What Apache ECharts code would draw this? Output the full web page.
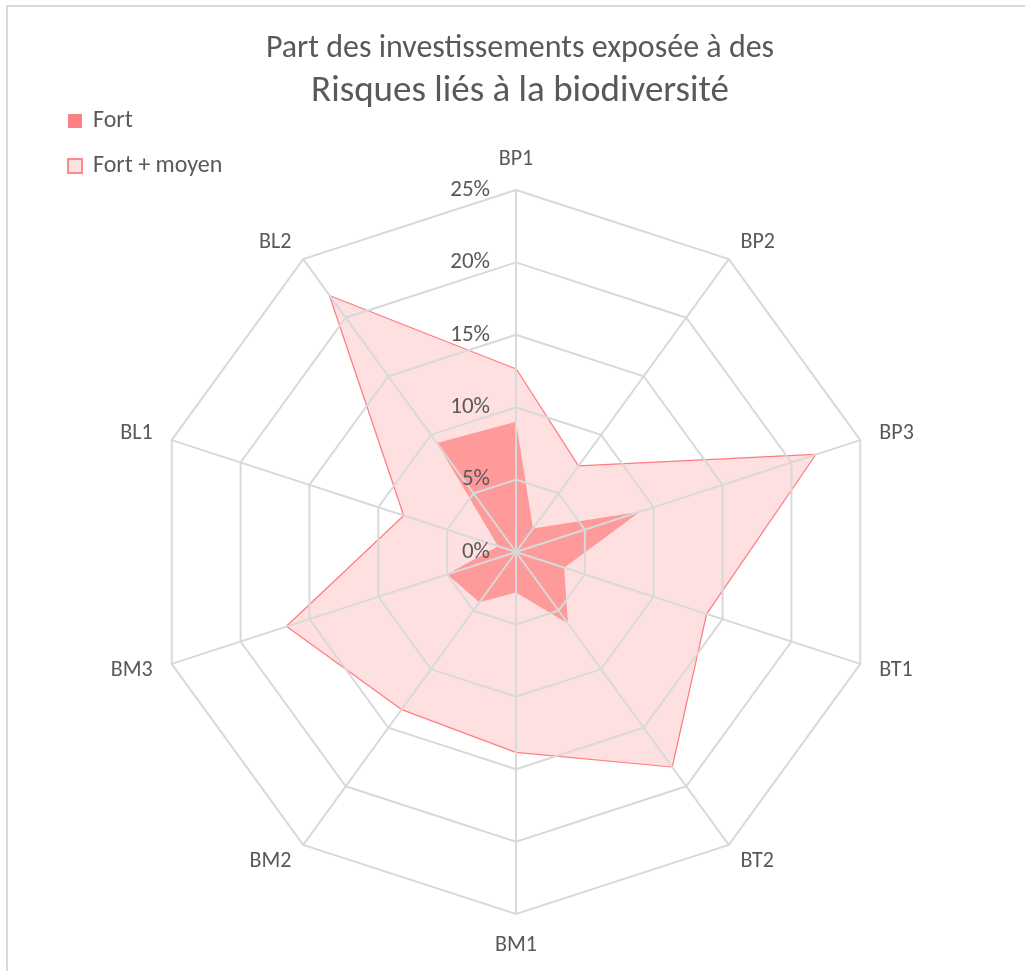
<!DOCTYPE html>
<html>
<head>
<meta charset="utf-8">
<script src="https://cdn.jsdelivr.net/npm/echarts@6/dist/echarts.min.js"></script>
<style>
    html, body { margin: 0; padding: 0; background: #fff; }
    #main { position: absolute; left: 0; top: 0; width: 1025px; height: 971px; }
    #frame { position: absolute; left: 6px; top: 5px; right: 0; bottom: 0;
             border-top: 2px solid #d9d9d9; border-left: 2px solid #d9d9d9; pointer-events: none; }
</style>
</head>
<body>
<div id="main"></div>
<div id="frame"></div>
<script>
// data (in %)
var axes = ['BP1', 'BP2', 'BP3', 'BT1', 'BT2', 'BM1', 'BM2', 'BM3', 'BL1', 'BL2'];
var fort = [9.0, 2.0, 9.0, 3.5, 6.1, 2.8, 4.3, 5.0, 1.3, 9.3];
var fortMoyen = [12.6, 7.3, 21.7, 13.8, 18.3, 13.8, 13.4, 16.6, 8.1, 21.8];
var seriesNames = ['Fort', 'Fort + moyen'];

var font = 'Carlito, Lato, sans-serif';
var grey = '#595959';

// echarts radar runs counter-clockwise, the original goes clockwise
function cw(arr) {
    return [arr[0]].concat(arr.slice(1).reverse());
}

// withLabel: show the % ticks on the first (top) axis only
function makeIndicator(withLabel) {
    return cw(axes).map(function (name, i) {
        var ind = {name: name, min: 0, max: 25};
        if (withLabel && i === 0) ind.axisLabel = {show: true};
        return ind;
    });
}

var myChart = echarts.init(document.getElementById('main'));
var option = {
    backgroundColor: '#fff',
    title: {
        text: 'Part des investissements exposée à des',
        subtext: 'Risques liés à la biodiversité',
        left: 520,
        top: 33,
        padding: 0,
        textAlign: 'center',
        itemGap: 8,
        textStyle: {fontFamily: font, fontSize: 32, fontWeight: 'normal', color: grey},
        subtextStyle: {fontFamily: font, fontSize: 37, color: grey}
    },
    legend: {
        orient: 'vertical',
        left: 62,
        top: 104,
        itemWidth: 14,
        itemHeight: 14,
        itemGap: 21,
        icon: 'rect',
        textStyle: {fontFamily: font, fontSize: 24, color: grey, padding: [0, 0, 0, 6]},
        data: [
            {name: seriesNames[0], itemStyle: {color: '#ff8080', borderWidth: 0}},
            {name: seriesNames[1], itemStyle: {color: '#fde0e0', borderColor: '#ff8a8a', borderWidth: 2}}
        ]
    },
    radar: [
        {
            // coordinate system for the series
            center: [516, 552],
            radius: 362,
            startAngle: 90,
            shape: 'polygon',
            splitNumber: 5,
            indicator: makeIndicator(false),
            axisName: {show: false},
            axisLine: {show: false},
            splitLine: {show: false},
            splitArea: {show: false},
            axisTick: {show: false},
            axisLabel: {show: false}
        },
        {
            // grid drawn over the areas
            z: 5,
            center: [516, 552],
            radius: 362,
            startAngle: 90,
            shape: 'polygon',
            splitNumber: 5,
            indicator: makeIndicator(true),
            nameGap: 20,
            axisName: {color: grey, fontFamily: font, fontSize: 22},
            axisLine: {lineStyle: {color: '#d9d9d9', width: 2}},
            splitLine: {lineStyle: {color: '#d9d9d9', width: 2}},
            splitArea: {show: false},
            axisTick: {show: false},
            axisLabel: {
                show: false,
                margin: 26,
                color: grey,
                fontFamily: font,
                fontSize: 23,
                formatter: '{value}%'
            }
        }
    ],
    series: [
        {
            type: 'radar',
            radarIndex: 0,
            symbol: 'none',
            z: 2,
            data: [
                {
                    name: seriesNames[1],
                    value: cw(fortMoyen),
                    itemStyle: {color: '#ff8080'},
                    lineStyle: {color: '#ff7c80', width: 2.5},
                    areaStyle: {color: '#fee0e0', opacity: 1}
                },
                {
                    name: seriesNames[0],
                    value: cw(fort),
                    itemStyle: {color: '#ff8080'},
                    lineStyle: {width: 0, opacity: 0},
                    areaStyle: {color: '#ff9a9a', opacity: 1}
                }
            ]
        }
    ]
};
if (option && typeof option === "object") {
    myChart.setOption(option, true);
}
</script>
</body>
</html>
